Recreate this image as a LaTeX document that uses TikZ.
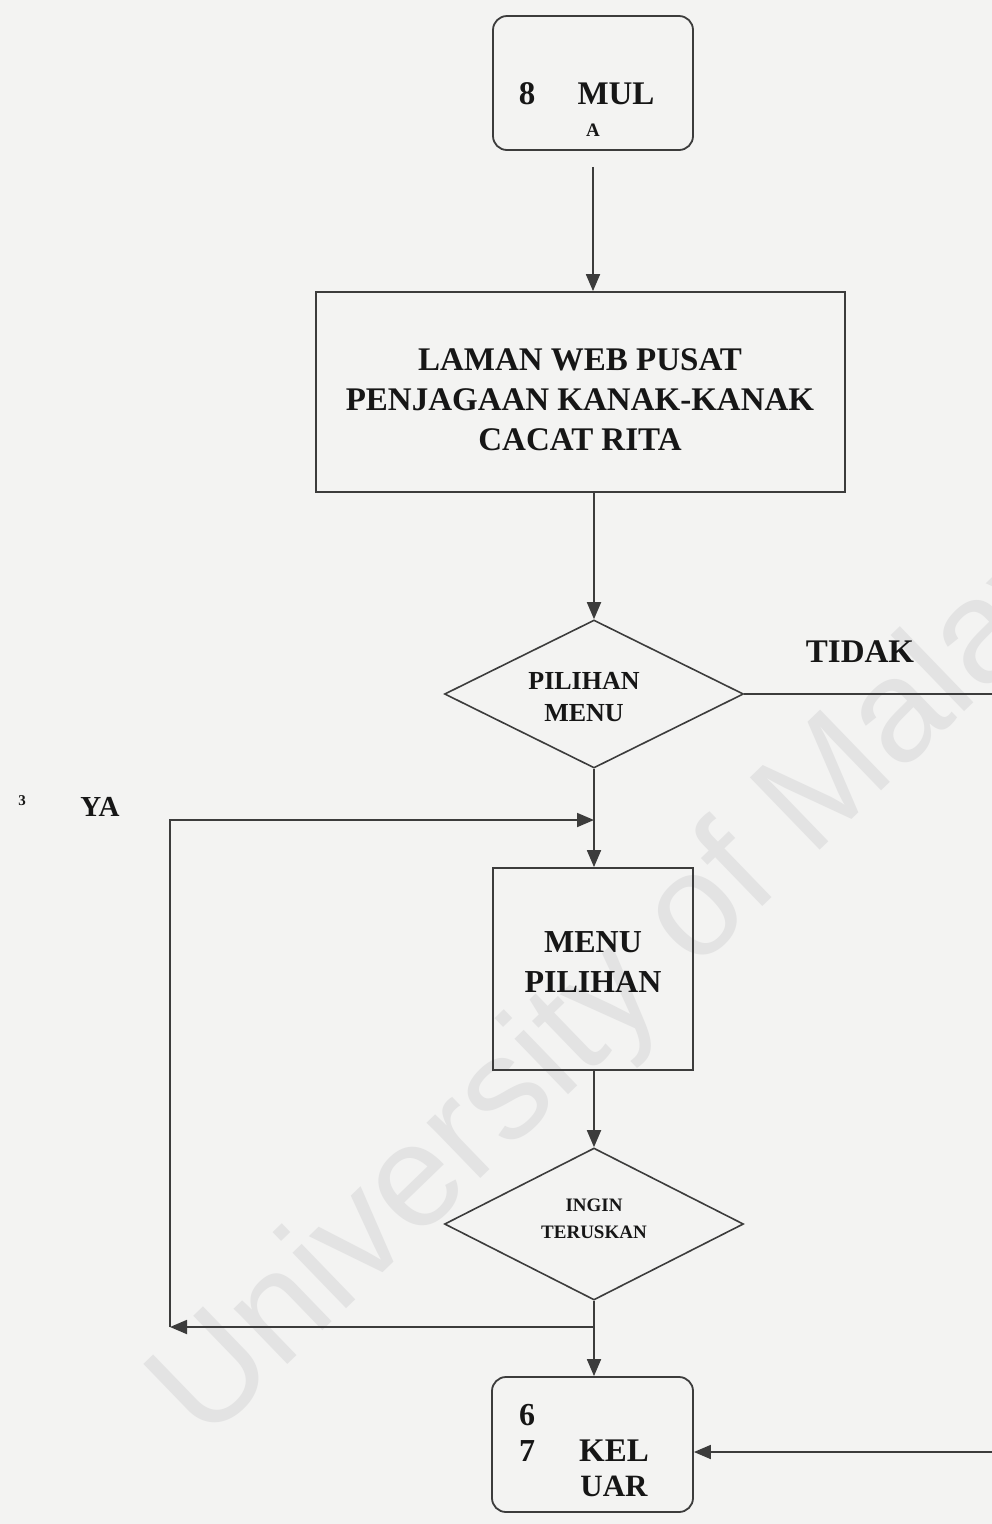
\documentclass[tikz,border=0pt]{standalone}
\usepackage{fontspec}
\setmainfont{Liberation Serif}
\newfontfamily\wmfont{Liberation Sans}
\usetikzlibrary{shapes.geometric,arrows.meta}
\definecolor{paper}{HTML}{F3F3F2}
\definecolor{ink}{HTML}{3C3C3C}
\definecolor{txt}{HTML}{161616}
\definecolor{wm}{HTML}{E3E3E3}
\newcommand{\fsz}[2]{\fontsize{#1}{#2}\selectfont}
\begin{document}
\begin{tikzpicture}[x=1pt,y=-1pt,
  line/.style={draw=ink,line width=1.8pt},
  arr/.style={line,-{Triangle[length=17pt,width=14pt]}},
  box/.style={draw=ink,line width=1.8pt,rectangle,inner sep=0pt},
  rbox/.style={box,rounded corners=14pt},
  dec/.style={draw=ink,line width=1.6pt,diamond,inner sep=0pt},
  lbl/.style={text=txt,inner sep=0pt,align=center},
]
% page
\fill[paper] (0,0) rectangle (992,1524);
\useasboundingbox (0,0) rectangle (992,1524);

% watermark
\node[font=\wmfont\fsz{146}{146},text=wm,rotate=44,anchor=base west,inner sep=0pt] (wmark) at (205,1445)
  {University of Malaya};

% start
\node[rbox,minimum width=200pt,minimum height=134pt] (start) at (593,83) {};
\node[lbl,font=\bfseries\fsz{33}{33},anchor=base] (s8) at (527,104) {8};
\node[lbl,font=\bfseries\fsz{33}{33},anchor=base] (smul) at (616,104) {MUL};
\node[lbl,font=\bfseries\fsz{19}{19},anchor=base] (sa) at (593,136) {A};

% web page box
\node[box,minimum width=529pt,minimum height=200pt] (web) at (580.5,392) {};
\node[lbl,font=\bfseries\fsz{33}{40}] (webt) at (580,400)
  {LAMAN WEB PUSAT\\PENJAGAAN KANAK-KANAK\\CACAT RITA};

% first decision
\node[dec,minimum width=299pt,minimum height=148pt] (d1) at (594,694) {};
\node[lbl,font=\bfseries\fsz{26}{32}] (d1t) at (584,697) {PILIHAN\\MENU};
\node[lbl,font=\bfseries\fsz{33}{33},anchor=base] (tidak) at (860,662) {TIDAK};
\node[lbl,font=\bfseries\fsz{15}{15},anchor=base] (three) at (22,805) {3};
\node[lbl,font=\bfseries\fsz{29}{29},anchor=base] (ya) at (100,816) {YA};

% menu box
\node[box,minimum width=200pt,minimum height=202pt] (menu) at (593,969) {};
\node[lbl,font=\bfseries\fsz{32}{40}] (menut) at (593,962) {MENU\\PILIHAN};

% second decision
\node[dec,minimum width=299pt,minimum height=152pt] (d2) at (594,1224) {};
\node[lbl,font=\bfseries\fsz{19}{27}] (d2t) at (594,1219) {INGIN\\TERUSKAN};

% end
\node[rbox,minimum width=201pt,minimum height=135pt] (end) at (592.5,1444.5) {};
\node[lbl,font=\bfseries\fsz{32}{32},anchor=base] (e6) at (527,1425) {6};
\node[lbl,font=\bfseries\fsz{32}{32},anchor=base] (e7) at (527,1461) {7};
\node[lbl,font=\bfseries\fsz{33}{33},anchor=base] (ekel) at (614,1461) {KEL};
\node[lbl,font=\bfseries\fsz{31}{31},anchor=base] (euar) at (614,1496) {UAR};

% free ends and bends
\coordinate (tr) at (992,694);
\coordinate (br) at (992,1452);
\coordinate (lt) at (170,820);
\coordinate (lb) at (170,1327);
\coordinate (jt) at (594,820);
\coordinate (jb) at (594,1327);

% connectors
\draw[arr] ([yshift=-16pt]start.south) -- (start.south |- web.north);
\draw[arr] (d1.north |- web.south) -- (d1.north);
\draw[line] (d1.east) -- (tr);
\draw[arr] (d1.south) -- (d1.south |- menu.north);
\draw[arr] (lb) -- (lt) -- (jt);
\draw[arr] (d2.north |- menu.south) -- (d2.north);
\draw[arr] (d2.south) -- (d2.south |- end.north);
\draw[arr] (jb) -- (lb);
\draw[arr] (br) -- (br -| end.east);
\end{tikzpicture}
\end{document}
